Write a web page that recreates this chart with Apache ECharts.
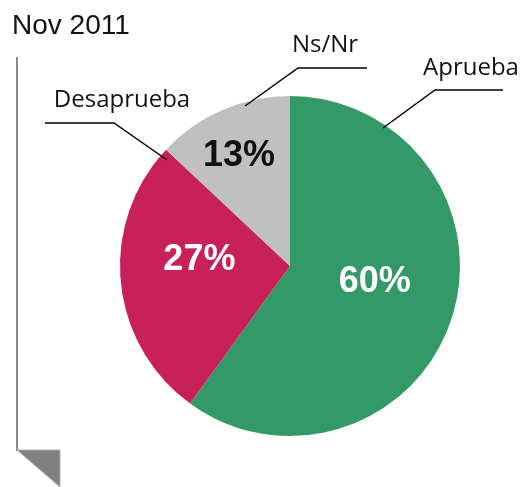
<!DOCTYPE html>
<html>
<head>
<meta charset="utf-8">
<script src="https://cdn.jsdelivr.net/npm/echarts@6/dist/echarts.min.js"></script>
<style>
  html, body { margin: 0; padding: 0; background: #fff; }
  #chart { width: 530px; height: 487px; }
</style>
</head>
<body>
<div id="chart"></div>
<script>
// datos
const categories = ["Aprueba", "Desaprueba", "Ns/Nr"];
const values = [60, 27, 13];

// estilos
const sliceColors = ["#339966", "#C8215A", "#C0C0C0"];
const pctColors = ["#fff", "#fff", "#111"];
const pctOffsets = [[1, -11], [-3, -14], [-16, -29]];
// callouts: punto en el sector, codo, final; centro del texto
const callouts = [
  { line: [[383, 128], [435, 90], [503, 90]], text: [471, 68] },
  { line: [[167, 160], [114, 123], [45, 123]], text: [122, 100] },
  { line: [[245, 106], [298, 68], [367, 68]], text: [325, 45] },
];

const chart = echarts.init(document.getElementById("chart"));

const pieBase = {
  type: "pie",
  center: [290, 266],
  radius: 170,
  startAngle: 90,
  clockwise: true,
  animation: false,
};

const option = {
  graphic: [
    {
      type: "line",
      shape: { x1: 17, y1: 57, x2: 17, y2: 451 },
      style: { stroke: "#8a8a8a", lineWidth: 2 },
    },
    {
      type: "polygon",
      shape: { points: [[17, 450], [60, 450], [60, 487]] },
      style: { fill: "#808080", stroke: "#b0b0b0", lineWidth: 1 },
    },
    {
      type: "text",
      left: 12,
      top: 12,
      style: {
        text: "Nov 2011",
        fill: "#111",
        font: '28px "Liberation Sans", Arial, sans-serif',
      },
    },
  ],
  series: [
    Object.assign({}, pieBase, {
      data: categories.map((name, i) => ({
        name: name,
        value: values[i],
        itemStyle: { color: sliceColors[i] },
        label: { color: pctColors[i], offset: pctOffsets[i] },
      })),
      label: {
        show: true,
        position: "inside",
        formatter: (p) => p.value + "%",
        fontFamily: '"Liberation Sans", Arial, sans-serif',
        fontWeight: "bold",
        fontSize: 36,
      },
      labelLine: { show: false },
      emphasis: { disabled: true },
    }),
    Object.assign({}, pieBase, {
      silent: true,
      z: 3,
      data: categories.map((name, i) => ({
        name: name,
        value: values[i],
        itemStyle: { color: "rgba(0,0,0,0)" },
      })),
      label: {
        show: true,
        position: "outside",
        formatter: "{b}",
        color: "#111",
        fontFamily: '"Open Sans", sans-serif',
        fontSize: 24,
        overflow: "none",
        width: 200,
      },
      labelLine: {
        show: true,
        lineStyle: { color: "#000", width: 1.5 },
      },
      labelLayout: function (params) {
        const c = callouts[params.dataIndex];
        return {
          x: c.text[0],
          y: c.text[1],
          align: "center",
          verticalAlign: "middle",
          labelLinePoints: c.line,
        };
      },
    }),
  ],
};

chart.setOption(option);
</script>
</body>
</html>
